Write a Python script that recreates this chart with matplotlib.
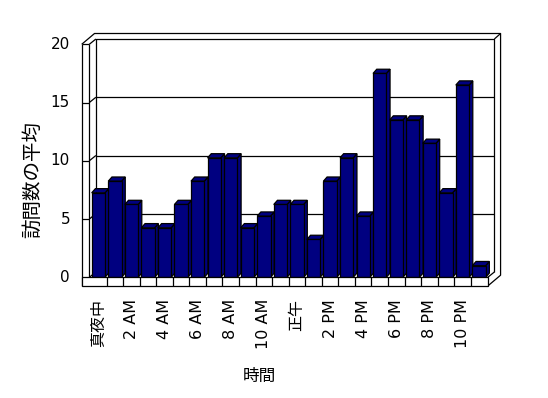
import matplotlib
matplotlib.use("Agg")
import matplotlib.pyplot as plt
from matplotlib.patches import Polygon, Rectangle

plt.rcParams['font.family'] = ['DejaVu Sans', 'Noto Sans CJK JP']

# ---- data ----
hours = list(range(24))
visits = [7.25, 8.25, 6.25, 4.25, 4.25, 6.25, 8.25, 10.25, 10.25, 4.25, 5.25, 6.25,
          6.25, 3.25, 8.25, 10.25, 5.25, 17.5, 13.5, 13.5, 11.5, 7.25, 16.5, 1.0]
tick_hours = [0, 2, 4, 6, 8, 10, 12, 14, 16, 18, 20, 22]
tick_labels = ['真夜中', '2 AM', '4 AM', '6 AM', '8 AM', '10 AM',
               '正午', '2 PM', '4 PM', '6 PM', '8 PM', '10 PM']
y_ticks = [0, 5, 10, 15, 20]
x_title = '時間'
y_title = '訪問数の平均'

# ---- layout (pixels) ----
W, H, DPI = 548, 398, 100
SX, SY = 16.55, 11.65          # px per category / per unit
X0, Y0 = 98.35, 277.3          # pixel of category 0 centre / value 0

def dx(p):   # pixel length -> data x
    return p / SX

def dy(p):
    return p / SY

def px2x(p):
    return (p - X0) / SX

def px2y(p):
    return (Y0 - p) / SY

fig = plt.figure(figsize=(W / DPI, H / DPI), dpi=DPI)
ax = fig.add_axes([0, 0, 1, 1])
ax.set_xlim(px2x(0), px2x(W))
ax.set_ylim(px2y(H), px2y(0))
ax.axis('off')

navy = '#000080'
lw = 0.9
ymax = max(y_ticks)
n = len(hours)

xl_out, xl_in = -1.0 - 0.006, px2x(89.3)
xr = n - 0.5 + 0.03
yb = px2y(286)
d1x, d1y = dx(6.6), dy(5.3)
tx, ty = dx(12.8), dy(10.8)

def line(xs, ys, z=1):
    ax.plot(xs, ys, color='black', lw=lw, solid_capstyle='butt', zorder=z)

# back wall
bx0, bx1 = xl_in + d1x, xr + d1x
line([bx0, bx0, bx1, bx1], [d1y, ymax + d1y, ymax + d1y, d1y])
for v in y_ticks[1:-1]:
    line([bx0, bx1], [v + d1y, v + d1y])
    line([xl_in, bx0], [v, v + d1y])
    line([xl_out, xl_in], [v, v])
# floor back edge / inner diagonals
line([xl_in, bx0], [0, d1y])
line([xr, bx1], [0, d1y])
line([xl_in, bx0], [ymax, ymax + d1y])
# outer outline
line([xl_out, xl_out + tx, xr + tx, xr + tx, xr],
     [ymax, ymax + ty, ymax + ty, yb + ty, yb])
line([bx1, xr + tx], [ymax + d1y, ymax + ty])
# left wall front face
line([xl_out, xl_out], [yb, ymax])
line([xl_in, xl_in], [0, ymax])
line([xl_out, xl_in], [ymax, ymax])

# bars
bw = 13.3 / SX
bdx, bdy = dx(3.7), dy(4.2)
for i, v in zip(hours, visits):
    l, r = i - bw / 2, i + bw / 2
    side = Polygon([(r, 0), (r + bdx, bdy), (r + bdx, v + bdy), (r, v)],
                   closed=True, facecolor=navy, edgecolor='black', lw=lw, zorder=3)
    top = Polygon([(l, v), (r, v), (r + bdx, v + bdy), (l + bdx, v + bdy)],
                  closed=True, facecolor=navy, edgecolor='black', lw=lw, zorder=3)
    ax.add_patch(side)
    ax.add_patch(top)
    ax.bar(i, v, width=bw, bottom=0, color=navy, edgecolor='black', lw=lw, zorder=4)

# floor front face
ax.add_patch(Rectangle((xl_out, yb), xr - xl_out, -yb, facecolor='white',
                       edgecolor='black', lw=lw, zorder=5))
for i in hours[:-1]:
    line([i + 0.5, i + 0.5], [yb, 0], z=6)

# y tick labels
for v in y_ticks:
    ax.text(px2x(70), v, str(v), ha='right', va='center', fontsize=11)

# x tick labels
for h, lab in zip(tick_hours, tick_labels):
    ax.text(h, px2y(299), lab, rotation=90, ha='center', va='top', fontsize=11.5)

ax.text(px2x(259), px2y(376), x_title, ha='center', va='center', fontsize=12)
ax.text(px2x(33), px2y(179), y_title, rotation=90, ha='center', va='center', fontsize=14)

fig.savefig('out.png', dpi=DPI, facecolor='white')
